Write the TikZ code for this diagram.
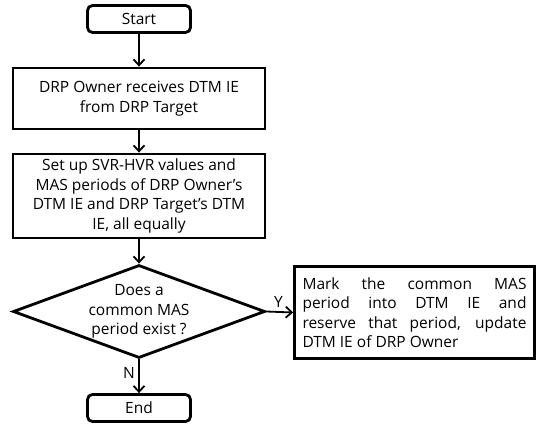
\documentclass[tikz,border=0pt]{standalone}
\usepackage{fontspec}
\setmainfont{Open Sans}
\usetikzlibrary{shapes.geometric, arrows.meta}
\begin{document}
\begin{tikzpicture}[x=1pt, y=-1pt, font=\fontsize{15.5}{19.5}\selectfont,
    terminal/.style={draw, line width=2.8pt, rounded corners=5pt, minimum width=103pt, minimum height=27pt, inner sep=0pt},
    process/.style={draw, line width=2.8pt, minimum width=252pt, align=center, inner sep=0pt},
    decision/.style={draw, diamond, line width=2.8pt, minimum width=252pt, minimum height=93pt, inner sep=0pt},
    flow/.style={-{Straight Barb[length=6pt, width=11pt]}, line width=1.8pt}]
    \useasboundingbox (0,0) rectangle (537,428);

    % Coordinates
    \coordinate (S) at (139,19);
    \coordinate (A) at (139,98.5);
    \coordinate (B) at (139,196);
    \coordinate (C) at (139,311.5);
    \coordinate (D) at (414.5,312.5);
    \coordinate (E) at (139,408);

    % Start
    \node[terminal] (start) at (S) {Start};

    % Receive
    \node[process, minimum height=61pt] (recv) at (A) {DRP Owner receives DTM IE\\from DRP Target};

    % Set up
    \node[process, minimum height=84pt] (setup) at (B) {Set up SVR-HVR values and\\MAS periods of DRP Owner's\\DTM IE and DRP Target's DTM\\IE, all equally};

    % Decision
    \node[decision] (dec) at (C) {};
    \node[align=center, inner sep=0pt] (dectext) at (C) {Does a\\common MAS\\period exist ?};

    % Mark
    \node[draw, line width=2.8pt, minimum width=240pt, minimum height=92pt, text width=224pt, align=justify, inner sep=0pt] (mark) at (D)
        {Mark the common MAS\linebreak period into DTM IE and\linebreak reserve that period, update\linebreak DTM IE of DRP Owner};

    % End
    \node[terminal] (end) at (E) {End};

    % Lines
    \draw[flow] (start) -- (recv);
    \draw[flow] (recv) -- (setup);
    \draw[flow] (setup) -- (dec);
    \draw[flow] (dec.east) -- (mark.west) node[pos=.45, above] {Y};
    \draw[flow] (dec.south) -- (end) node[pos=.4, left] {N};
\end{tikzpicture}
\end{document}
